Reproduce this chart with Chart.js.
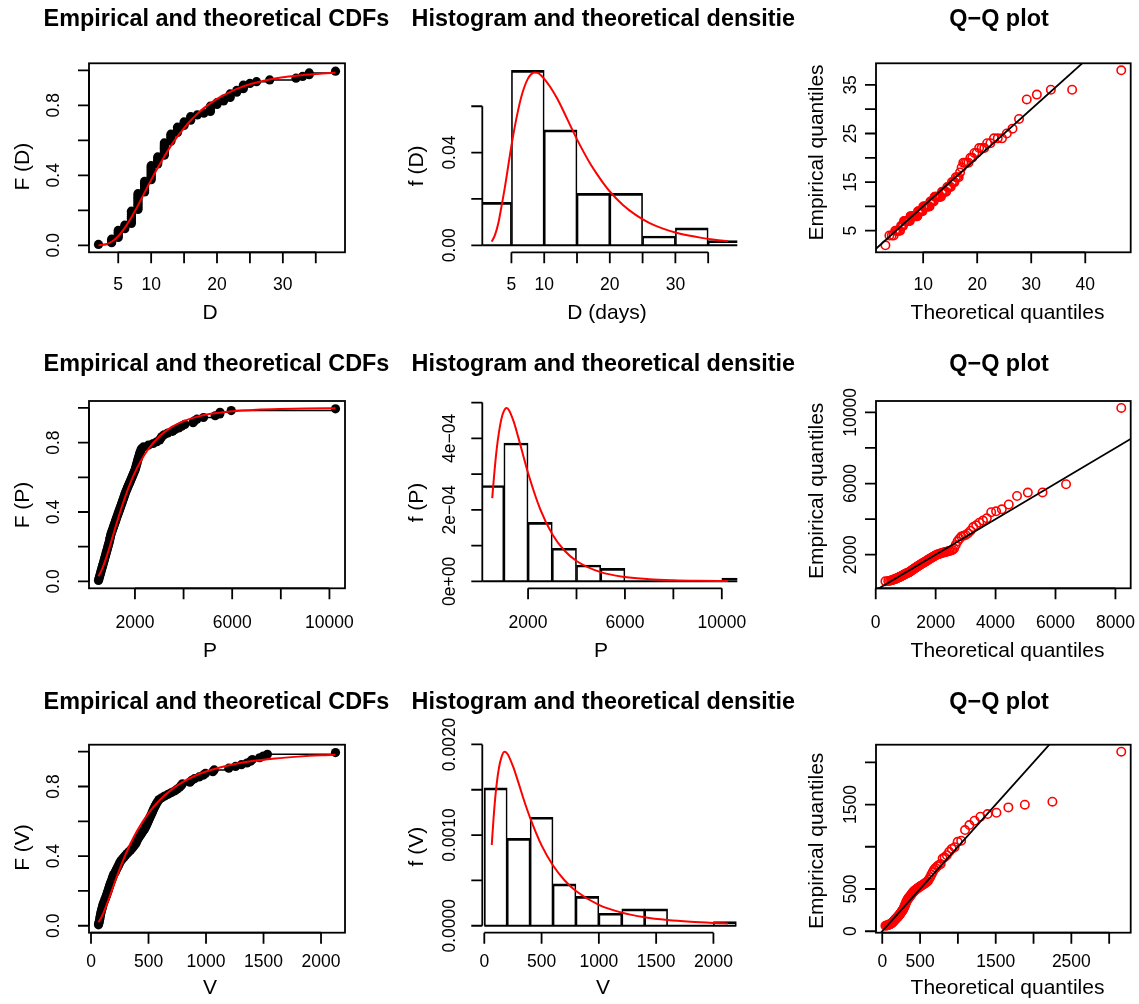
<!DOCTYPE html>
<html>
<head>
<meta charset="utf-8">
<title>Empirical and theoretical fits</title>
<script src="https://cdn.jsdelivr.net/npm/chart.js@4.4.1/dist/chart.umd.min.js"></script>
<style>
html,body{margin:0;padding:0;background:#ffffff;}
#wrap{position:relative;width:1139px;height:1004px;overflow:hidden;background:#ffffff;}
#wrap canvas{position:absolute;left:0;top:0;}
</style>
</head>
<body>
<div id="wrap">
<canvas id="cdfD" width="1139" height="1004"></canvas>
<canvas id="histD" width="1139" height="1004"></canvas>
<canvas id="qqD" width="1139" height="1004"></canvas>
<canvas id="cdfP" width="1139" height="1004"></canvas>
<canvas id="histP" width="1139" height="1004"></canvas>
<canvas id="qqP" width="1139" height="1004"></canvas>
<canvas id="cdfV" width="1139" height="1004"></canvas>
<canvas id="histV" width="1139" height="1004"></canvas>
<canvas id="qqV" width="1139" height="1004"></canvas>
</div>
<script>
// ---------------- data ----------------
// plotting positions of the 100 sorted observations
const probs = [0.005,0.015,0.025,0.035,0.045,0.055,0.065,0.075,0.085,0.095,
0.105,0.115,0.125,0.135,0.145,0.155,0.165,0.175,0.185,0.195,
0.205,0.215,0.225,0.235,0.245,0.255,0.265,0.275,0.285,0.295,
0.305,0.315,0.325,0.335,0.345,0.355,0.365,0.375,0.385,0.395,
0.405,0.415,0.425,0.435,0.445,0.455,0.465,0.475,0.485,0.495,
0.505,0.515,0.525,0.535,0.545,0.555,0.565,0.575,0.585,0.595,
0.605,0.615,0.625,0.635,0.645,0.655,0.665,0.675,0.685,0.695,
0.705,0.715,0.725,0.735,0.745,0.755,0.765,0.775,0.785,0.795,
0.805,0.815,0.825,0.835,0.845,0.855,0.865,0.875,0.885,0.895,
0.905,0.915,0.925,0.935,0.945,0.955,0.965,0.975,0.985,0.995];

// D (days): sorted observations and theoretical quantiles
const dSorted = [2,4,4,4,5,5,5,5,5,6,6,6,7,7,7,7,7,7,7,7,
8,8,8,8,8,8,8,8,8,8,9,9,9,9,9,9,9,10,10,10,
10,10,10,10,10,10,11,11,11,11,11,12,12,12,12,12,12,12,12,13,
13,13,13,13,14,14,14,14,15,15,15,16,16,16,17,18,19,19,19,19,
20,20,21,21,22,22,22,23,23,24,24,24,25,26,28,32,33,34,34,38];
const dTheoQ = [3.02,3.75,4.19,4.54,4.83,5.08,5.31,5.53,5.73,5.92,
6.10,6.28,6.45,6.61,6.77,6.92,7.08,7.23,7.38,7.52,
7.66,7.81,7.95,8.09,8.23,8.37,8.50,8.64,8.78,8.92,
9.05,9.19,9.33,9.47,9.60,9.74,9.88,10.02,10.16,10.31,
10.45,10.59,10.74,10.88,11.03,11.18,11.33,11.48,11.63,11.79,
11.95,12.12,12.27,12.44,12.60,12.77,12.95,13.12,13.30,13.48,
13.67,13.87,14.06,14.26,14.47,14.68,14.88,15.10,15.33,15.57,
15.80,16.05,16.31,16.58,16.83,17.12,17.42,17.72,18.04,18.39,
18.74,19.09,19.49,19.90,20.36,20.81,21.32,21.84,22.44,23.10,
23.80,24.59,25.48,26.53,27.74,29.17,31.04,33.63,37.57,46.66];

// P: sorted observations and theoretical quantiles
const pSorted = [500,520,540,560,580,600,620,640,660,680,
700,720,740,760,780,800,820,840,860,880,
900,920,940,955,970,985,1000,1020,1045,1070,
1095,1120,1145,1170,1195,1220,1245,1270,1295,1320,
1345,1370,1395,1420,1445,1470,1495,1520,1545,1570,
1595,1620,1650,1680,1710,1740,1770,1800,1830,1860,
1890,1920,1950,1980,2010,2030,2050,2070,2090,2110,
2130,2150,2170,2190,2210,2240,2270,2350,2550,2750,
2900,3020,3060,3110,3200,3350,3550,3650,3800,3920,
4050,4390,4440,4550,4820,5300,5490,5500,5960,10250];
const pTheoQ = [324,418,477,523,563,598,631,661,689,716,
742,768,792,816,839,862,885,907,929,950,
972,994,1015,1036,1057,1078,1099,1120,1141,1162,
1183,1205,1226,1248,1269,1291,1313,1334,1357,1379,
1402,1424,1447,1470,1494,1518,1542,1566,1591,1616,
1643,1669,1696,1722,1749,1777,1806,1835,1865,1894,
1925,1957,1990,2022,2057,2092,2128,2166,2204,2245,
2285,2327,2371,2416,2463,2512,2563,2616,2671,2732,
2795,2858,2928,3000,3080,3165,3254,3353,3457,3579,
3708,3854,4017,4208,4440,4716,5077,5567,6352,8195];

// V: sorted observations and theoretical quantiles
const vSorted = [65,68,72,75,78,80,83,86,90,94,
98,102,106,112,118,124,130,135,140,146,
150,155,160,165,170,176,182,187,192,197,
208,215,222,230,238,245,252,262,275,288,
300,315,330,345,358,370,382,392,398,405,
415,425,435,445,455,465,472,480,487,494,
500,507,514,521,528,535,541,548,556,564,
572,582,592,615,640,670,700,730,750,770,
785,795,860,875,900,940,975,995,1059,1071,
1198,1257,1308,1356,1387,1403,1466,1498,1534,2126];
const vTheoQ = [42.0,59.0,70.4,79.6,87.9,95.3,102.3,108.8,115.2,121.3,
127.2,133.1,138.8,144.4,150.0,155.5,160.9,166.3,171.8,177.1,
182.5,187.9,193.4,198.8,204.2,209.6,215.1,220.6,226.2,231.8,
237.5,243.1,248.9,254.8,260.7,266.6,272.7,278.8,285.1,291.4,
297.9,304.2,310.9,317.5,324.5,331.4,338.4,345.5,352.9,360.4,
368.2,376.1,384.1,392.2,400.5,409.0,418.0,426.9,436.3,445.5,
455.4,465.5,476.0,486.7,497.8,509.1,520.9,533.2,545.9,558.8,
572.5,586.7,601.6,617.0,633.2,649.9,667.6,686.2,706.3,727.2,
749.4,772.5,798.0,824.8,853.5,884.8,919.1,956.1,997.1,1043.3,
1094.1,1152.0,1219.8,1297.3,1392.6,1509.8,1667.3,1885.1,2249.4,3159.9];

// theoretical CDF curves
const dCdfX = [2,3,4,5,6,7,8,9,10,11,12,13,14,15,16,17,18,20,22,24,26,28,30,32,34,36,38];
const dCdfY = [0.0004,0.0048,0.0202,0.0517,0.0996,0.160,0.228,0.301,0.374,0.443,0.508,0.568,0.622,0.670,0.713,0.751,0.784,0.837,0.877,0.908,0.930,0.947,0.960,0.969,0.976,0.982,0.986];
const pCdfX = [500,600,700,800,1000,1200,1400,1600,1800,2000,2200,2500,3000,3500,4000,4500,5000,6000,7000,8000,9000,10250];
const pCdfY = [0.0298,0.0556,0.0889,0.128,0.218,0.313,0.404,0.488,0.563,0.628,0.684,0.753,0.835,0.889,0.924,0.947,0.963,0.981,0.990,0.9944,0.9968,0.9983];
const vCdfX = [65,80,100,125,150,200,250,300,350,400,500,600,700,800,900,1000,1200,1400,1600,1800,2000,2126];
const vCdfY = [0.020,0.0354,0.0617,0.101,0.145,0.237,0.327,0.409,0.481,0.544,0.647,0.724,0.782,0.826,0.860,0.886,0.922,0.946,0.961,0.9715,0.979,0.982];

// theoretical density curves
const dDensX = [2,2.5,3,3.5,4,4.5,5,5.5,6,6.5,7,7.5,8,8.5,9,9.5,10,11,12,13,14,15,16,17,18,19,20,22,24,26,28,30,32,34,36,38];
const dDensY = [0.0016,0.0045,0.0095,0.017,0.025,0.034,0.043,0.051,0.058,0.064,0.0685,0.0718,0.0738,0.0746,0.0744,0.0734,0.0718,0.068,0.0632,0.0575,0.0515,0.0457,0.0403,0.0353,0.0309,0.0268,0.0232,0.0174,0.0130,0.0097,0.0073,0.0055,0.0042,0.0032,0.0024,0.0018];
const pDensX = [520,600,700,800,900,1000,1100,1200,1400,1600,1800,2000,2500,3000,3500,4000,5000,6000,7000,8000,9000,10250];
const pDensY = [2.33e-4,2.98e-4,3.67e-4,4.18e-4,4.55e-4,4.76e-4,4.85e-4,4.80e-4,4.48e-4,4.02e-4,3.52e-4,3.03e-4,2.02e-4,1.32e-4,0.864e-4,0.570e-4,0.257e-4,0.122e-4,0.061e-4,0.032e-4,0.017e-4,0.0085e-4];
const vDensX = [65,80,100,125,150,175,200,250,300,350,400,500,600,700,800,1000,1200,1400,1600,1800,2000,2126];
const vDensY = [0.89e-3,1.17e-3,1.47e-3,1.72e-3,1.86e-3,1.92e-3,1.90e-3,1.76e-3,1.57e-3,1.37e-3,1.19e-3,0.886e-3,0.664e-3,0.502e-3,0.383e-3,0.2305e-3,0.1444e-3,0.0937e-3,0.0627e-3,0.0431e-3,0.0303e-3,0.0245e-3];

// histograms (breaks and densities)
const dBreaks = [0,5,10,15,20,25,30,35,40];
const dHist = [0.0185,0.0755,0.0498,0.0224,0.0224,0.0040,0.0075,0.0020];
const pBreaks = [0,1000,2000,3000,4000,5000,6000,7000,8000,9000,10000,11000];
const pHist = [2.68e-4,3.87e-4,1.65e-4,0.925e-4,0.458e-4,0.364e-4,0,0,0,0,0.093e-4];
const vBreaks = [0,200,400,600,800,1000,1200,1400,1600,1800,2000,2200];
const vHist = [1.52e-3,0.963e-3,1.197e-3,0.461e-3,0.323e-3,0.1375e-3,0.186e-3,0.186e-3,0,0,0.0446e-3];

// tick values and tick labels
const dXTicks = [5,10,15,20,25,30,35], dXLabels = ['5','10','','20','','30',''];
const pXTicks = [2000,4000,6000,8000,10000], pXLabels = ['2000','','6000','','10000'];
const vXTicks = [0,500,1000,1500,2000], vXLabels = ['0','500','1000','1500','2000'];
const cdfYTicks = [0,0.2,0.4,0.6,0.8,1.0], cdfYLabels = ['0.0','','0.4','','0.8',''];
const dDensTicks = [0,0.02,0.04,0.06], dDensLabels = ['0.00','','0.04',''];
const pDensTicks = [0,1e-4,2e-4,3e-4,4e-4,5e-4], pDensLabels = ['0e+00','','2e\u221204','','4e\u221204',''];
const vDensTicks = [0,0.0005,0.001,0.0015,0.002], vDensLabels = ['0.0000','','0.0010','','0.0020'];
const dQXTicks = [10,20,30,40], dQXLabels = ['10','20','30','40'];
const dQYTicks = [5,10,15,20,25,30,35], dQYLabels = ['5','','15','','25','','35'];
const pQXTicks = [0,2000,4000,6000,8000], pQXLabels = ['0','2000','4000','6000','8000'];
const pQYTicks = [2000,4000,6000,8000,10000], pQYLabels = ['2000','','6000','','10000'];
const vQXTicks = [0,500,1000,1500,2000,2500,3000], vQXLabels = ['0','500','','1500','','2500',''];
const vQYTicks = [0,500,1000,1500,2000], vQYLabels = ['0','500','','1500',''];

// ---------------- layout / style ----------------
const W = 1139, H = 1004;
const FONT = '"Liberation Sans", Arial, Helvetica, sans-serif';
const LW = 1.8, TICK = 11;
const ROWS = [
  {t:63.3, b:252.3, titleY:26, xLabY:285, xTitY:313.3, yTitY:[166.7,165.8,152.5]},
  {t:401, b:588.3, titleY:371, xLabY:623, xTitY:651.7, yTitY:[505,502.5,490.8]},
  {t:744.7, b:932.7, titleY:709.3, xLabY:961.7, xTitY:988.3, yTitY:[847.5,846.7,840.8]}
];
const COLS = [
  {l:89, r:345, yLabX:54, yTitX:23, titleX:216.5},
  {l:482.3, r:737.3, yLabX:450, yTitX:417.5, titleX:609.8},
  {l:876, r:1130.7, yLabX:851, yTitX:817.5, titleX:999}
];

const pad4 = (lo, hi) => [lo - 0.04 * (hi - lo), hi + 0.04 * (hi - lo)];
const pts = (xs, ys) => xs.map((x, i) => ({x: x, y: ys[i]}));

function rStyle(s) {
  return {
    id: 'rStyle',
    beforeDatasetsDraw(chart) {
      if (!s.baseline) return;
      const ctx = chart.ctx, a = chart.chartArea, X = chart.scales.x, Y = chart.scales.y;
      ctx.save();
      ctx.beginPath(); ctx.rect(a.left, a.top, a.right - a.left, a.bottom - a.top); ctx.clip();
      ctx.strokeStyle = '#000'; ctx.lineWidth = 2;
      const y0 = Y.getPixelForValue(0);
      ctx.beginPath();
      ctx.moveTo(X.getPixelForValue(s.baseline[0]), y0);
      ctx.lineTo(X.getPixelForValue(s.baseline[1]), y0);
      ctx.stroke();
      ctx.restore();
    },
    afterDatasetsDraw(chart) {
      const ctx = chart.ctx, a = chart.chartArea, X = chart.scales.x, Y = chart.scales.y;
      ctx.save();
      ctx.strokeStyle = '#000'; ctx.fillStyle = '#000'; ctx.lineWidth = LW;
      if (s.box) ctx.strokeRect(a.left, a.top, a.right - a.left, a.bottom - a.top);
      const xp = s.xTicks.map(v => X.getPixelForValue(v));
      const yp = s.yTicks.map(v => Y.getPixelForValue(v));
      ctx.beginPath();
      ctx.moveTo(xp[0], a.bottom); ctx.lineTo(xp[xp.length - 1], a.bottom);
      xp.forEach(p => { ctx.moveTo(p, a.bottom); ctx.lineTo(p, a.bottom + TICK); });
      ctx.moveTo(a.left, yp[0]); ctx.lineTo(a.left, yp[yp.length - 1]);
      yp.forEach(p => { ctx.moveTo(a.left, p); ctx.lineTo(a.left - TICK, p); });
      ctx.stroke();
      // tick labels
      ctx.font = '17.5px ' + FONT;
      ctx.textAlign = 'center'; ctx.textBaseline = 'middle';
      s.xLabels.forEach((t, i) => { if (t) ctx.fillText(t, xp[i], s.xLabY); });
      s.yLabels.forEach((t, i) => {
        if (!t) return;
        ctx.save(); ctx.translate(s.yLabX, yp[i]); ctx.rotate(-Math.PI / 2); ctx.fillText(t, 0, 0); ctx.restore();
      });
      // axis titles
      ctx.font = '21px ' + FONT;
      ctx.fillText(s.xTitle, s.xTitX, s.xTitY);
      ctx.save(); ctx.translate(s.yTitX, s.yTitY); ctx.rotate(-Math.PI / 2); ctx.fillText(s.yTitle, 0, 0); ctx.restore();
      // main title
      ctx.font = 'bold 23.4px ' + FONT;
      ctx.textBaseline = 'alphabetic';
      ctx.save();
      if (s.titleClip) { ctx.beginPath(); ctx.rect(0, 0, s.titleClip, H); ctx.clip(); }
      ctx.fillText(s.title, s.titleX, s.titleY);
      ctx.restore();
      ctx.restore();
    }
  };
}

function makeChart(id, type, row, col, xr, yr, datasets, s) {
  const R = ROWS[row], C = COLS[col];
  Object.assign(s, {
    xLabY: R.xLabY, xTitY: R.xTitY, yTitY: R.yTitY[col], titleY: R.titleY,
    yLabX: C.yLabX, yTitX: C.yTitX, titleX: C.titleX
  });
  if (s.xTitX === undefined) s.xTitX = [210, 604, 1007.5][col];
  return new Chart(document.getElementById(id), {
    type: type,
    data: {datasets: datasets},
    options: {
      responsive: false, animation: false, devicePixelRatio: 1, events: [],
      layout: {padding: {left: C.l, top: R.t, right: W - C.r, bottom: H - R.b}},
      plugins: {legend: {display: false}, tooltip: {enabled: false}, title: {display: false}},
      scales: {
        x: {type: 'linear', display: false, min: xr[0], max: xr[1], offset: false},
        y: {type: 'linear', display: false, min: yr[0], max: yr[1]}
      }
    },
    plugins: [rStyle(s)]
  });
}

function cdfPanel(id, row, data, cx, cy, xTicks, xLabels, xTitle, yTitle) {
  const xr = pad4(Math.min(...data), Math.max(...data));
  const yr = pad4(0, 1);
  const emp = pts(data, probs);
  const ds = [
    {type: 'line', data: pts(cx, cy), borderColor: '#ff0000', borderWidth: 2, pointRadius: 0,
     cubicInterpolationMode: 'monotone', fill: false, clip: 0},
    {type: 'line', data: emp, showLine: false, pointRadius: 4.6, pointBackgroundColor: '#000',
     pointBorderColor: '#000', pointBorderWidth: 0, clip: 0},
    {type: 'line', data: emp, stepped: 'before', borderColor: '#000', borderWidth: 1.6,
     pointRadius: 0, fill: false, clip: 0}
  ];
  return makeChart(id, 'line', row, 0, xr, yr, ds, {
    box: true, xTicks: xTicks, xLabels: xLabels, yTicks: cdfYTicks, yLabels: cdfYLabels,
    xTitle: xTitle, yTitle: yTitle, title: 'Empirical and theoretical CDFs'
  });
}

function histPanel(id, row, data, breaks, dens, dx, dy, xTicks, xLabels, yTicks, yLabels, xTitle, yTitle, xTitX) {
  const xr = pad4(Math.min(...data), Math.max(...data));
  const ymax = Math.max(Math.max(...dens), Math.max(...dy));
  const yr = [-0.04 * ymax, 1.04 * ymax];
  const mids = dens.map((d, i) => (breaks[i] + breaks[i + 1]) / 2);
  const ds = [
    {type: 'line', data: pts(dx, dy), borderColor: '#ff0000', borderWidth: 2, pointRadius: 0,
     cubicInterpolationMode: 'monotone', fill: false, clip: 0},
    {type: 'bar', data: pts(mids, dens), backgroundColor: 'rgba(0,0,0,0)', borderColor: '#000',
     borderWidth: {top: 2, left: 1, right: 1, bottom: 0}, borderSkipped: false,
     barPercentage: 1, categoryPercentage: 1, clip: 0}
  ];
  return makeChart(id, 'bar', row, 1, xr, yr, ds, {
    box: false, baseline: [breaks[0], breaks[breaks.length - 1]],
    xTicks: xTicks, xLabels: xLabels, yTicks: yTicks, yLabels: yLabels,
    xTitle: xTitle, yTitle: yTitle, xTitX: xTitX,
    title: 'Histogram and theoretical densities', titleClip: 795
  });
}

function qqPanel(id, row, theo, emp, xTicks, xLabels, yTicks, yLabels) {
  const xr = pad4(Math.min(...theo), Math.max(...theo));
  const yr = pad4(Math.min(...emp), Math.max(...emp));
  const lo = Math.min(xr[0], yr[0]), hi = Math.max(xr[1], yr[1]);
  const ds = [
    {type: 'line', data: [{x: lo, y: lo}, {x: hi, y: hi}], borderColor: '#000', borderWidth: 1.8,
     pointRadius: 0, fill: false, clip: 0},
    {type: 'line', data: pts(theo, emp), showLine: false, pointRadius: 4.2,
     pointBackgroundColor: 'rgba(0,0,0,0)', pointBorderColor: '#ff0000', pointBorderWidth: 1.6, clip: 0}
  ];
  return makeChart(id, 'line', row, 2, xr, yr, ds, {
    box: true, xTicks: xTicks, xLabels: xLabels, yTicks: yTicks, yLabels: yLabels,
    xTitle: 'Theoretical quantiles', yTitle: 'Empirical quantiles', title: 'Q\u2212Q plot'
  });
}

// ---------------- build the 9 panels ----------------
cdfPanel('cdfD', 0, dSorted, dCdfX, dCdfY, dXTicks, dXLabels, 'D', 'F (D)');
histPanel('histD', 0, dSorted, dBreaks, dHist, dDensX, dDensY, dXTicks, dXLabels, dDensTicks, dDensLabels, 'D (days)', 'f (D)', 607);
qqPanel('qqD', 0, dTheoQ, dSorted, dQXTicks, dQXLabels, dQYTicks, dQYLabels);

cdfPanel('cdfP', 1, pSorted, pCdfX, pCdfY, pXTicks, pXLabels, 'P', 'F (P)');
histPanel('histP', 1, pSorted, pBreaks, pHist, pDensX, pDensY, pXTicks, pXLabels, pDensTicks, pDensLabels, 'P', 'f (P)', 601);
qqPanel('qqP', 1, pTheoQ, pSorted, pQXTicks, pQXLabels, pQYTicks, pQYLabels);

cdfPanel('cdfV', 2, vSorted, vCdfX, vCdfY, vXTicks, vXLabels, 'V', 'F (V)');
histPanel('histV', 2, vSorted, vBreaks, vHist, vDensX, vDensY, vXTicks, vXLabels, vDensTicks, vDensLabels, 'V', 'f (V)', 603);
qqPanel('qqV', 2, vTheoQ, vSorted, vQXTicks, vQXLabels, vQYTicks, vQYLabels);
</script>
</body>
</html>
